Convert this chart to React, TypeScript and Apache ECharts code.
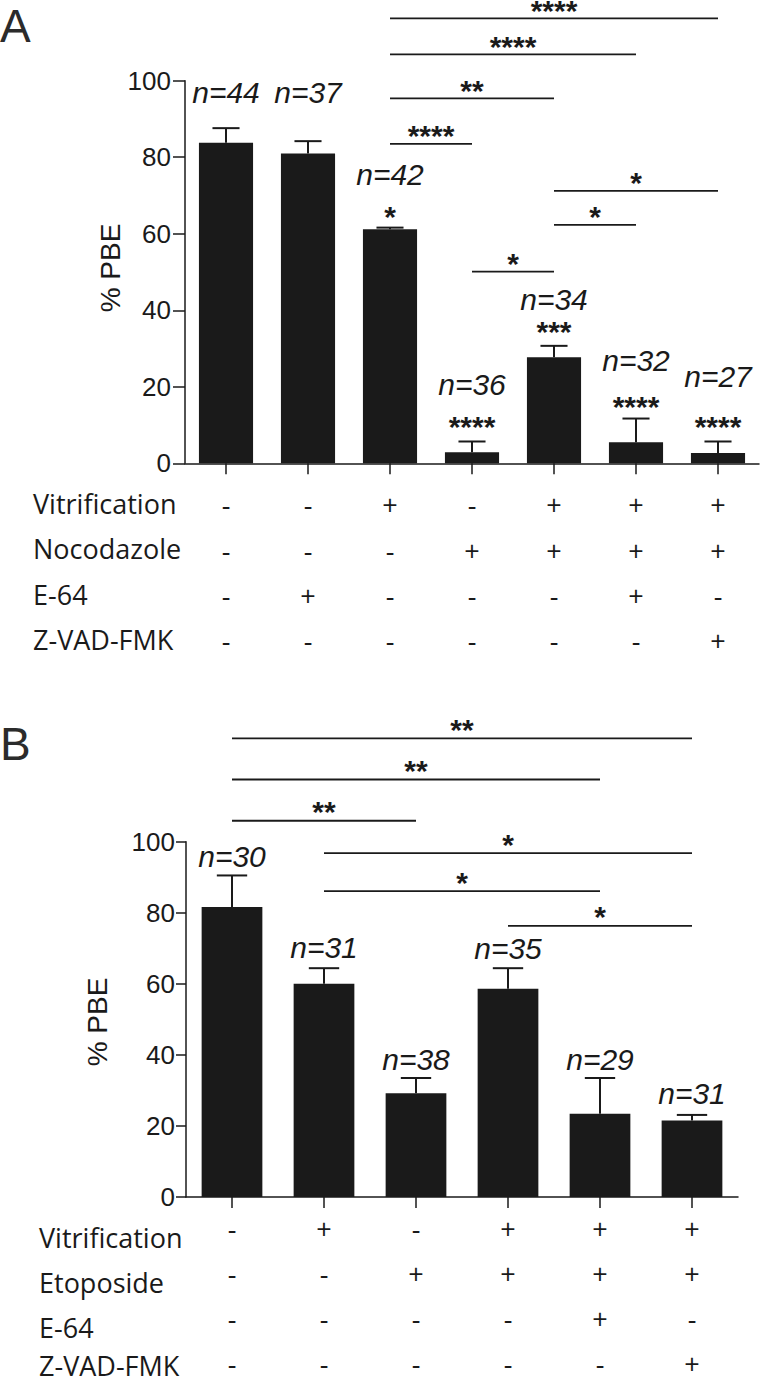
import React, { useEffect, useRef } from 'react';
import * as echarts from 'echarts';

// ---------- Panel A data ----------
const catsA = ['c1', 'c2', 'c3', 'c4', 'c5', 'c6', 'c7'];
const meanA = [83.8, 81.0, 61.2, 2.9, 27.7, 5.5, 2.7];
const errA = [87.6, 84.2, 61.6, 5.7, 30.7, 11.7, 5.7];
const nTextA = ['n=44', 'n=37', 'n=42', 'n=36', 'n=34', 'n=32', 'n=27'];
const nLevelA = [96.8, 96.8, 75.4, 20.5, 42.7, 26.8, 22.6];
const starTextA = ['', '', '*', '****', '***', '****', '****'];
const starLevelA = [0, 0, 65.7, 10.9, 35.7, 16.1, 10.9];
const brFromA = [2, 2, 2, 2, 4, 4, 3];
const brToA = [6, 5, 4, 3, 6, 5, 4];
const brLevelA = [116.3, 106.9, 95.4, 83.5, 71.2, 62.3, 50.1];
const brTextA = ['****', '****', '**', '****', '*', '*', '*'];
const rowNamesA = ['Vitrification', 'Nocodazole', 'E-64', 'Z-VAD-FMK'];
const vitA = ['-', '-', '+', '-', '+', '+', '+'];
const nocA = ['-', '-', '-', '+', '+', '+', '+'];
const e64A = ['-', '+', '-', '-', '-', '+', '-'];
const zvadA = ['-', '-', '-', '-', '-', '-', '+'];

// ---------- Panel B data ----------
const catsB = ['d1', 'd2', 'd3', 'd4', 'd5', 'd6'];
const meanB = [81.6, 60.0, 29.2, 58.6, 23.4, 21.5];
const errB = [90.5, 64.4, 33.5, 64.4, 33.5, 23.1];
const nTextB = ['n=30', 'n=31', 'n=38', 'n=35', 'n=29', 'n=31'];
const nLevelB = [95.9, 70.3, 38.6, 70.0, 38.6, 29.1];
const brFromB = [0, 0, 0, 1, 1, 3];
const brToB = [5, 4, 2, 5, 4, 5];
const brLevelB = [129.1, 117.5, 105.9, 96.8, 86.1, 76.3];
const brTextB = ['**', '**', '**', '*', '*', '*'];
const rowNamesB = ['Vitrification', 'Etoposide', 'E-64', 'Z-VAD-FMK'];
const vitB = ['-', '+', '-', '+', '+', '+'];
const etoB = ['-', '-', '+', '+', '+', '+'];
const e64B = ['-', '-', '-', '-', '+', '-'];
const zvadB = ['-', '-', '-', '-', '-', '+'];

const yTicks = [0, 20, 40, 60, 80, 100];

// ---------- styles ----------
const INK = '#1a1a1a';
const SANS = '"Liberation Sans", Arial, Helvetica, sans-serif';
const ROWF = '"Open Sans", "Liberation Sans", sans-serif';

type PanelCfg = {
  cats: string[];
  mean: number[];
  err: number[];
  nText: string[];
  nLevel: number[];
  starText: string[];
  starLevel: number[];
  brFrom: number[];
  brTo: number[];
  brLevel: number[];
  brText: string[];
  rows: string[][];
  grid: { left: number; top: number; width: number; height: number };
  labelMargin: number;
  rowLine: number;
  yLabelMargin: number;
  yTickLen: number;
  brStarDy: number;
};

function panel(idx: number, c: PanelCfg) {
  const grid = { ...c.grid, containLabel: false };
  const xAxis = {
    type: 'category',
    gridIndex: idx,
    data: c.cats,
    axisLine: { show: true, lineStyle: { color: INK, width: 1.5 } },
    axisTick: { show: true, alignWithLabel: true, length: 11, lineStyle: { color: INK, width: 1.5 } },
    axisLabel: {
      show: true,
      interval: 0,
      margin: c.labelMargin,
      fontSize: 27,
      lineHeight: c.rowLine,
      fontFamily: ROWF,
      color: INK,
      formatter: (_v: string, i: number) => c.rows.map((r) => r[i]).join('\n'),
    },
    splitLine: { show: false },
  };
  const yAxis = {
    type: 'value',
    gridIndex: idx,
    min: yTicks[0],
    max: yTicks[yTicks.length - 1],
    interval: yTicks[1] - yTicks[0],
    axisLine: { show: true, lineStyle: { color: INK, width: 1.5 } },
    axisTick: { show: true, length: c.yTickLen, lineStyle: { color: INK, width: 1.5 } },
    axisLabel: { fontSize: 26, fontFamily: SANS, color: INK, margin: c.yLabelMargin },
    splitLine: { show: false },
  };
  const bar = {
    type: 'bar',
    xAxisIndex: idx,
    yAxisIndex: idx,
    data: c.mean,
    barWidth: '66%',
    itemStyle: { color: INK },
    z: 2,
  };
  const errSeries = {
    type: 'custom',
    xAxisIndex: idx,
    yAxisIndex: idx,
    clip: false,
    z: 3,
    data: c.mean.map((m, i) => [i, m, c.err[i]]),
    encode: { x: 0, y: [1, 2] },
    renderItem: (_p: any, api: any) => {
      const i = api.value(0);
      const p0 = api.coord([i, api.value(1)]);
      const p1 = api.coord([i, api.value(2)]);
      const half = api.size([1, 0])[0] * 0.165;
      return {
        type: 'group',
        children: [
          { type: 'line', shape: { x1: p0[0], y1: p0[1], x2: p1[0], y2: p1[1] }, style: { stroke: INK, lineWidth: 2 } },
          { type: 'line', shape: { x1: p1[0] - half, y1: p1[1], x2: p1[0] + half, y2: p1[1] }, style: { stroke: INK, lineWidth: 2 } },
        ],
      };
    },
  };
  const nSeries = {
    type: 'custom',
    xAxisIndex: idx,
    yAxisIndex: idx,
    clip: false,
    z: 4,
    data: c.nLevel.map((v, i) => [i, v]),
    encode: { x: 0, y: 1 },
    renderItem: (p: any, api: any) => {
      const pt = api.coord([api.value(0), api.value(1)]);
      return {
        type: 'text',
        x: pt[0],
        y: pt[1],
        style: {
          text: c.nText[p.dataIndex],
          fill: INK,
          fontSize: 30,
          fontStyle: 'italic',
          fontFamily: SANS,
          align: 'center',
          verticalAlign: 'middle',
        },
      };
    },
  };
  const starIdx = c.starText.map((s, i) => (s ? i : -1)).filter((i) => i >= 0);
  const starSeries = {
    type: 'custom',
    xAxisIndex: idx,
    yAxisIndex: idx,
    clip: false,
    z: 4,
    data: starIdx.map((i) => [i, c.starLevel[i]]),
    encode: { x: 0, y: 1 },
    renderItem: (p: any, api: any) => {
      const pt = api.coord([api.value(0), api.value(1)]);
      return {
        type: 'text',
        x: pt[0],
        y: pt[1] + 5,
        style: {
          text: c.starText[starIdx[p.dataIndex]],
          fill: INK,
          fontSize: 30,
          fontWeight: 'bold',
          fontFamily: SANS,
          align: 'center',
          verticalAlign: 'middle',
        },
      };
    },
  };
  const brSeries = {
    type: 'custom',
    xAxisIndex: idx,
    yAxisIndex: idx,
    clip: false,
    z: 4,
    data: c.brLevel.map((v, i) => [c.brFrom[i], c.brTo[i], v]),
    encode: { x: [0, 1], y: 2 },
    renderItem: (p: any, api: any) => {
      const a = api.coord([api.value(0), api.value(2)]);
      const b = api.coord([api.value(1), api.value(2)]);
      return {
        type: 'group',
        children: [
          { type: 'line', shape: { x1: a[0], y1: a[1], x2: b[0], y2: b[1] }, style: { stroke: INK, lineWidth: 1.8 } },
          {
            type: 'text',
            x: (a[0] + b[0]) / 2,
            y: a[1] - c.brStarDy,
            style: {
              text: c.brText[p.dataIndex],
              fill: INK,
              fontSize: 30,
              fontWeight: 'bold',
              fontFamily: SANS,
              align: 'center',
              verticalAlign: 'middle',
            },
          },
        ],
      };
    },
  };
  return { grid, xAxis, yAxis, series: [bar, errSeries, nSeries, starSeries, brSeries] };
}

export default function App() {
  const ref = useRef<HTMLDivElement>(null);
  useEffect(() => {
    if (!ref.current) return;
    const chart = echarts.init(ref.current, null, { renderer: 'svg' });
    const A = panel(0, {
      cats: catsA,
      mean: meanA,
      err: errA,
      nText: nTextA,
      nLevel: nLevelA,
      starText: starTextA,
      starLevel: starLevelA,
      brFrom: brFromA,
      brTo: brToA,
      brLevel: brLevelA,
      brText: brTextA,
      rows: [vitA, nocA, e64A, zvadA],
      grid: { left: 185, top: 80.7, width: 574, height: 382.6 },
      labelMargin: 19,
      rowLine: 45.3,
      yLabelMargin: 14,
      yTickLen: 12,
      brStarDy: 8,
    });
    const B = panel(1, {
      cats: catsB,
      mean: meanB,
      err: errB,
      nText: nTextB,
      nLevel: nLevelB,
      starText: catsB.map(() => ''),
      starLevel: catsB.map(() => 0),
      brFrom: brFromB,
      brTo: brToB,
      brLevel: brLevelB,
      brText: brTextB,
      rows: [vitB, etoB, e64B, zvadB],
      grid: { left: 186, top: 841.7, width: 552, height: 366.6 },
      labelMargin: 9,
      rowLine: 45,
      yLabelMargin: 11,
      yTickLen: 10,
      brStarDy: 9,
    });
    const rowText = (names: string[], x: number, y0: number, step: number, dy: number) =>
      names.map((t, i) => ({
        type: 'text',
        left: x,
        top: Math.min(y0 + i * step - dy, 1352),
        style: { text: t, fill: INK, fontSize: 27, fontFamily: ROWF },
      }));
    chart.setOption({
      animation: false,
      backgroundColor: '#ffffff',
      grid: [A.grid, B.grid],
      xAxis: [A.xAxis, B.xAxis],
      yAxis: [A.yAxis, B.yAxis],
      series: [...A.series, ...B.series],
      graphic: [
        { type: 'text', left: 0, top: 3, style: { text: 'A', fill: '#2b2b2b', fontSize: 46, fontFamily: SANS } },
        { type: 'text', left: 0, top: 721, style: { text: 'B', fill: '#2b2b2b', fontSize: 46, fontFamily: SANS } },
        {
          type: 'text',
          x: 110,
          y: 268,
          rotation: Math.PI / 2,
          style: { text: '% PBE', fill: INK, fontSize: 28, fontFamily: SANS, align: 'center', verticalAlign: 'middle' },
        },
        {
          type: 'text',
          x: 97,
          y: 1022,
          rotation: Math.PI / 2,
          style: { text: '% PBE', fill: INK, fontSize: 28, fontFamily: SANS, align: 'center', verticalAlign: 'middle' },
        },
        ...rowText(rowNamesA, 33, 505, 45.3, 15),
        ...rowText(rowNamesB, 39, 1240, 45, 16),
      ],
    });
    return () => chart.dispose();
  }, []);
  return <div ref={ref} style={{ position: 'absolute', left: 0, top: 0, width: 760, height: 1386 }} />;
}
